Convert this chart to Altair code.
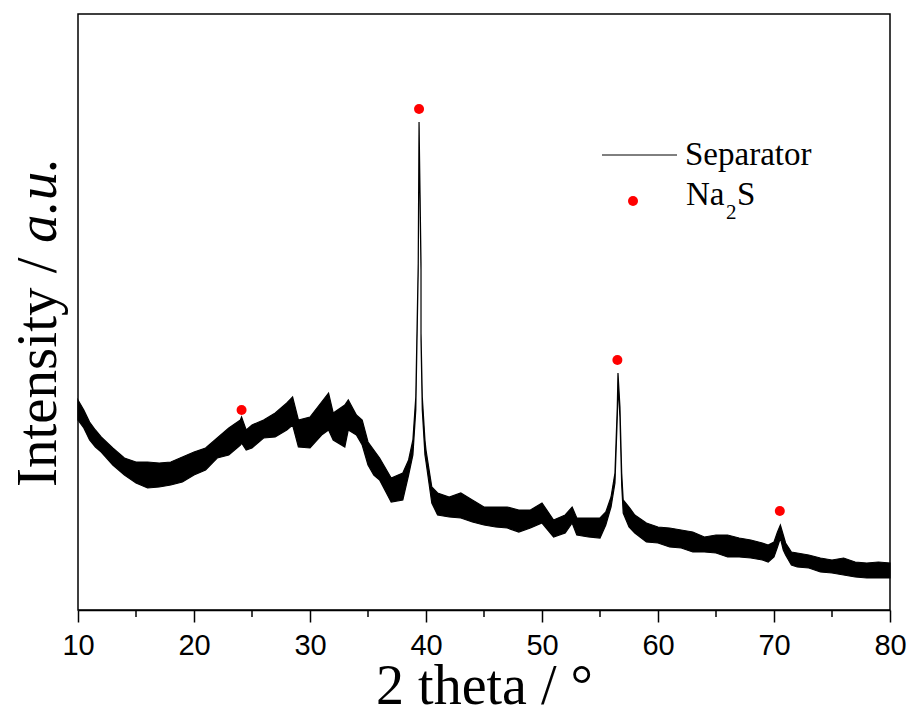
import altair as alt
import pandas as pd

# 2-theta positions (degrees) and envelope of the noisy XRD trace (arbitrary intensity units)
two_theta = [10, 10.5, 11, 11.5, 12, 13, 14, 15, 16, 17, 18, 19, 20, 21, 22, 23, 24, 24.1, 24.5, 25, 26, 27, 28, 28.5,
             29, 30, 31, 31.6, 32, 33, 33.3, 34, 34.5, 35, 35.5, 36, 37, 38, 38.5, 38.87, 39.12, 39.33, 39.4,
             39.57, 39.57, 39.68, 39.91, 40.0, 40.5, 41, 42, 43, 44, 45, 46, 47, 48, 49, 50, 51, 52,
             52.6, 53, 54, 55, 55.5, 55.95, 56.29, 56.49, 56.55, 56.72, 56.87, 57.0, 57.5, 58, 59,
             60, 61, 62, 63, 64, 65, 66, 67, 68, 69, 69.5, 70, 70.3, 70.55, 70.8, 71, 71.5, 72, 73,
             74, 75, 76, 77, 78, 79, 80]
upper = [210, 200, 188, 180, 173, 162, 152, 148, 148, 147, 148, 153, 158, 162, 172, 182, 190, 193, 180, 185, 190, 197,
         207, 213, 190, 193, 208, 217, 197, 205, 210, 195, 190, 168, 160, 152, 132, 137, 150, 170, 213, 347, 488,
         347, 277, 213, 170, 160, 123, 117, 113, 117, 110, 103, 103, 103, 100, 100, 107, 90, 95,
         103, 92, 92, 92, 98, 113, 137, 203, 237, 203, 137, 110, 103, 95, 87,
         83, 82, 80, 78, 73, 75, 75, 72, 70, 67, 65, 68, 78, 85, 75, 67, 58, 57, 55,
         52, 50, 52, 48, 47, 48, 47]
lower = [190, 182, 170, 163, 158, 145, 135, 127, 122, 123, 125, 128, 135, 140, 152, 155, 165, 167, 160, 162, 172, 173,
         180, 185, 163, 162, 175, 180, 170, 163, 180, 175, 165, 145, 135, 130, 108, 110, 135, 155, 200, 340, 478,
         340, 270, 200, 155, 148, 107, 95, 93, 92, 88, 85, 83, 82, 78, 82, 87, 73, 77,
         87, 75, 73, 72, 85, 103, 127, 193, 225, 193, 125, 97, 83, 77, 68,
         67, 63, 62, 58, 58, 57, 53, 53, 52, 50, 48, 53, 63, 72, 60, 55, 45, 43, 42,
         38, 37, 35, 33, 32, 32, 32]

# Na2S reflections marked with red dots
na2s_theta = [24.1, 39.4, 56.5, 70.5]
na2s_int = [200, 501, 250, 99]

major_ticks = [10, 20, 30, 40, 50, 60, 70, 80]
minor_ticks = [15, 25, 35, 45, 55, 65, 75]

legend_labels = ["Separator", "Na", "2", "S"]

trace = pd.DataFrame({"theta": two_theta, "upper": upper, "lower": lower})
dots = pd.DataFrame({"theta": na2s_theta, "intensity": na2s_int})
minor = pd.DataFrame({"theta": minor_ticks})

xscale = alt.Scale(domain=[10, 80], nice=False, zero=False)
yscale = alt.Scale(domain=[0, 596], nice=False, zero=False)

xaxis = alt.Axis(values=major_ticks, tickSize=12, tickWidth=1.5, tickColor="black",
                 domainWidth=1.5, domainColor="black", grid=False,
                 labelFont="Liberation Sans", labelFontSize=29, labelColor="black",
                 labelPadding=9, labelFlush=False,
                 title="2 theta / °", titleFont="Liberation Serif", titleFontSize=56,
                 titleFontWeight="normal", titleColor="black", titleY=93,
                 titleBaseline="alphabetic")

band = alt.Chart(trace).mark_area(color="black", stroke="black", strokeWidth=1.2,
                                   opacity=1, interpolate="linear").encode(
    x=alt.X("theta:Q", scale=xscale, axis=xaxis),
    y=alt.Y("upper:Q", scale=yscale, axis=None),
    y2="lower:Q",
)

minor_rules = alt.Chart(minor).mark_rule(color="black", strokeWidth=1.5).encode(
    x=alt.X("theta:Q", scale=xscale),
    y=alt.value(596), y2=alt.value(603),
)

points = alt.Chart(dots).mark_circle(color="#ff0000", size=100, opacity=1).encode(
    x=alt.X("theta:Q", scale=xscale),
    y=alt.Y("intensity:Q", scale=yscale),
)

# y-axis title (mixed upright / italic)
ytitle1 = alt.Chart(pd.DataFrame({"t": ["Intensity / "]})).mark_text(
    angle=270, align="left", baseline="alphabetic", font="Liberation Serif",
    fontSize=57, color="black").encode(x=alt.value(-22), y=alt.value(473), text="t:N")
ytitle2 = alt.Chart(pd.DataFrame({"t": ["a.u."]})).mark_text(
    angle=270, align="left", baseline="alphabetic", font="Liberation Serif",
    fontSize=57, fontStyle="italic", color="black").encode(
    x=alt.value(-22), y=alt.value(229), text="t:N")

# legend
leg_line = alt.Chart(pd.DataFrame({"a": [0]})).mark_rule(color="black", strokeWidth=1).encode(
    x=alt.value(524), x2=alt.value(599), y=alt.value(141))
leg_dot = alt.Chart(pd.DataFrame({"a": [0]})).mark_circle(color="#ff0000", size=100, opacity=1).encode(
    x=alt.value(555), y=alt.value(187))


def leg_text(label, x, y, size):
    return alt.Chart(pd.DataFrame({"t": [label]})).mark_text(
        align="left", baseline="alphabetic", font="Liberation Serif", fontSize=size,
        color="black").encode(x=alt.value(x), y=alt.value(y), text="t:N")


leg_t1 = leg_text(legend_labels[0], 607, 151, 33)
leg_t2 = leg_text(legend_labels[1], 608, 191, 33)
leg_t3 = leg_text(legend_labels[2], 648, 205, 21)
leg_t4 = leg_text(legend_labels[3], 659, 191, 33)

chart = alt.layer(band, minor_rules, points, ytitle1, ytitle2, leg_line, leg_dot,
                  leg_t1, leg_t2, leg_t3, leg_t4).properties(
    width=812, height=596,
    autosize=alt.AutoSizeParams(type="none"),
    padding={"left": 78, "top": 14, "right": 23, "bottom": 103},
    background="white",
).configure_view(stroke="black", strokeWidth=1.5)

chart.save("out.html", embed_options={"renderer": "svg", "actions": False})
